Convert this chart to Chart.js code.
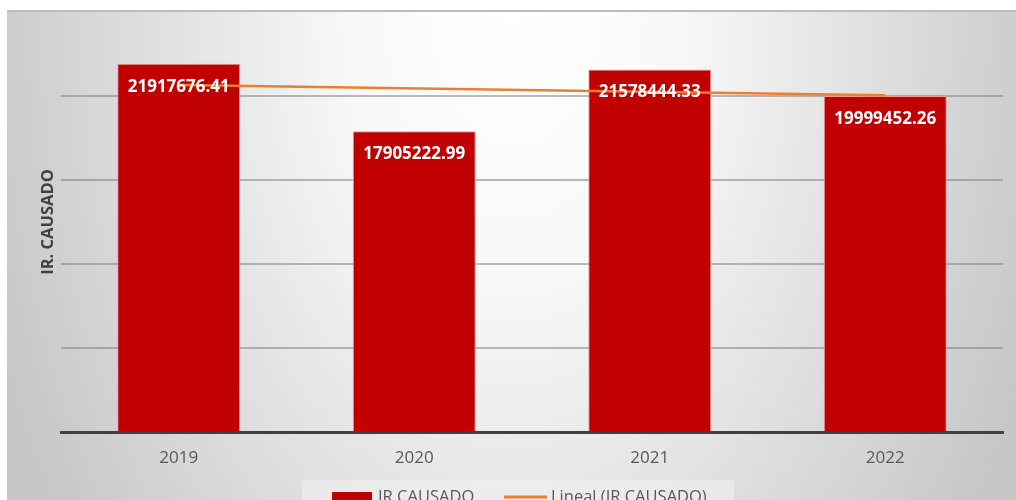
<!DOCTYPE html>
<html lang="es">
<head>
<meta charset="utf-8">
<title>IR CAUSADO</title>
<script src="https://cdn.jsdelivr.net/npm/chart.js@4.4.1/dist/chart.umd.min.js"></script>
<style>
    html, body { margin: 0; padding: 0; background: #ffffff; overflow: hidden; }
    #wrap { position: relative; width: 1016px; height: 500px; }
</style>
</head>
<body>
<div id="wrap"><canvas id="chart"></canvas></div>
<script>
// ========== DATA ==========
const years = ['2019', '2020', '2021', '2022'];
const irCausado = [21917676.41, 17905222.99, 21578444.33, 19999452.26];
// linear trend, only its two ends are plotted (straight segment)
const lineal = [20660000, null, null, 20040000];
const yTicks = [0, 5000000, 10000000, 15000000, 20000000, 25000000];

const RED = '#C00000';
const ORANGE = '#ED7D31';
const FONT = "'Open Sans', 'Noto Sans', sans-serif";

Chart.defaults.font.family = FONT;

// ========== BACKGROUND + FRAME ==========
const backdrop = {
    id: 'backdrop',
    beforeDraw(chart) {
        const { ctx, width, height } = chart;
        ctx.save();
        const x0 = 7, y0 = 11;
        // elliptical fade: white near top centre, grey toward the edges
        const cx = 515, cy = 10, rx = 560, ry = 900;
        ctx.save();
        ctx.beginPath();
        ctx.rect(x0, y0, width - x0, height - y0);
        ctx.clip();
        ctx.translate(cx, cy);
        ctx.scale(1, ry / rx);
        const g = ctx.createRadialGradient(0, 0, 0, 0, 0, rx);
        g.addColorStop(0, '#ffffff');
        g.addColorStop(0.3, '#f8f8f8');
        g.addColorStop(1, '#c6c6c6');
        ctx.fillStyle = g;
        ctx.fillRect(-cx - 10, -cy - 10, width + 20, (height + 20) * rx / ry + 200);
        ctx.restore();

        ctx.strokeStyle = '#bdbdbd';
        ctx.lineWidth = 2;
        ctx.beginPath();
        ctx.moveTo(x0, y0);
        ctx.lineTo(width, y0);
        ctx.stroke();
        ctx.restore();
    },
};

// ========== VALUE LABELS INSIDE BARS ==========
const barLabels = {
    id: 'barLabels',
    afterDatasetsDraw(chart) {
        const { ctx } = chart;
        const meta = chart.getDatasetMeta(0);
        ctx.save();
        ctx.font = `bold 17px ${FONT}`;
        ctx.fillStyle = '#ffffff';
        ctx.textAlign = 'center';
        ctx.textBaseline = 'middle';
        meta.data.forEach((bar, i) => {
            ctx.fillText(irCausado[i].toFixed(2), bar.x, bar.y + 23);
        });
        ctx.restore();
    },
};

// ========== LEGEND (bottom, partly below the fold) ==========
const bottomLegend = {
    id: 'bottomLegend',
    afterDraw(chart) {
        const { ctx } = chart;
        const [bars, trend] = chart.data.datasets;
        ctx.save();
        ctx.fillStyle = 'rgba(240,240,240,0.6)';
        ctx.fillRect(302, 480, 432, 40);

        ctx.fillStyle = bars.backgroundColor;
        ctx.fillRect(332, 492, 40, 20);

        ctx.strokeStyle = trend.borderColor;
        ctx.lineWidth = 3;
        ctx.beginPath();
        ctx.moveTo(504, 497);
        ctx.lineTo(547, 497);
        ctx.stroke();

        ctx.font = `16.5px ${FONT}`;
        ctx.fillStyle = '#595959';
        ctx.textBaseline = 'alphabetic';
        ctx.fillText(bars.label, 378, 502);
        ctx.fillText(trend.label, 551, 502);
        ctx.restore();
    },
};

new Chart(document.getElementById('chart'), {
    data: {
        labels: years,
        datasets: [
            {
                type: 'bar',
                label: 'IR CAUSADO',
                data: irCausado,
                backgroundColor: RED,
                borderColor: '#ee9a9a',
                borderWidth: 1,
                categoryPercentage: 1,
                barPercentage: 0.522,
                order: 1,
            },
            {
                type: 'line',
                label: 'Lineal (IR CAUSADO)',
                data: lineal,
                borderColor: ORANGE,
                borderWidth: 2.5,
                pointRadius: 0,
                spanGaps: true,
                tension: 0,
                order: 0,
            },
        ],
    },
    options: {
        responsive: true,
        maintainAspectRatio: false,
        animation: false,
        layout: { padding: { left: 0, top: 12, right: 13, bottom: 0 } },
        plugins: {
            legend: { display: false },
            tooltip: { enabled: false },
        },
        scales: {
            x: {
                grid: { display: false, drawTicks: false },
                border: { display: true, color: '#404040', width: 3 },
                ticks: {
                    color: '#595959',
                    font: { family: FONT, size: 17 },
                    padding: 16,
                },
                afterFit(scale) { scale.height = 68; },
            },
            y: {
                min: 0,
                max: 25000000,
                afterBuildTicks(scale) { scale.ticks = yTicks.map(v => ({ value: v })); },
                ticks: { display: false },
                grid: {
                    drawTicks: false,
                    lineWidth: 2,
                    color: (c) => (c.tick && c.tick.value === 25000000) ? 'transparent' : 'rgba(120,120,120,0.5)',
                },
                border: { display: false },
                title: {
                    display: true,
                    text: 'IR. CAUSADO',
                    color: '#404040',
                    font: { family: FONT, size: 16.5, weight: 'bold' },
                    padding: { top: 38 },
                },
                afterFit(scale) { scale.width = 61; },
            },
        },
    },
    plugins: [backdrop, barLabels, bottomLegend],
});
</script>
</body>
</html>
